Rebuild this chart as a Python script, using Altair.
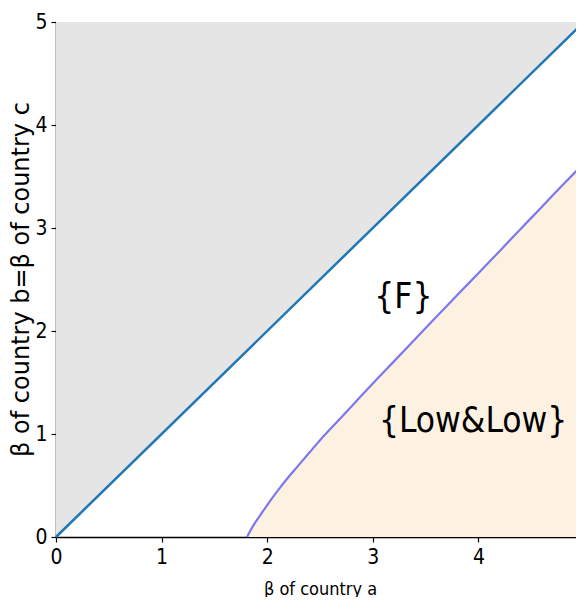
import altair as alt
import pandas as pd

# diagonal boundary y = x
diag_x = [0.0, 5.0]
diag_y = [0.0, 5.0]

# purple boundary curve
curve_x = [1.81, 1.84, 1.88, 1.94, 2.0, 2.1, 2.2, 2.3, 2.4, 2.5, 2.6, 2.8, 3.0, 3.2, 3.4, 3.6, 3.8, 4.0, 4.2, 4.4, 4.6, 4.8, 5.0]
curve_y = [0.0, 0.06, 0.13, 0.22, 0.31, 0.45, 0.58, 0.70, 0.82, 0.94, 1.05, 1.27, 1.49, 1.705, 1.92, 2.135, 2.35, 2.56, 2.775, 2.99, 3.205, 3.42, 3.63]

labels = ["{F}", "{Low&Low}"]
label_x = [3.29, 3.95]
label_y = [2.33, 1.13]

FONT = "DejaVu Sans Condensed"

diag = pd.DataFrame({"x": diag_x, "y": diag_y, "top": [5.0, 5.0]})
curve = pd.DataFrame({"x": curve_x, "y": curve_y, "zero": [0.0] * len(curve_x)})
texts = pd.DataFrame({"t": labels, "x": label_x, "y": label_y})

xs = alt.Scale(domain=[0, 5], nice=False, zero=False)
ys = alt.Scale(domain=[0, 5], nice=False, zero=False)

xax = alt.Axis(values=[0, 1, 2, 3, 4, 5], format="d", grid=False, domain=True,
               domainColor="black", domainWidth=1.5, tickColor="black", tickSize=5,
               tickWidth=1.2, labelFont=FONT, labelFontSize=21, labelColor="black",
               labelPadding=4, labelFlush=False, title="β of country a", titleFont=FONT,
               titleFontSize=18, titleFontWeight="normal", titleColor="black",
               titleBaseline="alphabetic", titleY=57)
yax = alt.Axis(values=[0, 1, 2, 3, 4, 5], format="d", grid=False, domain=True,
               domainColor="black", domainWidth=1.5, tickColor="black", tickSize=5,
               tickWidth=1.2, labelFont=FONT, labelFontSize=21, labelColor="black",
               labelPadding=4, title="β of country b=β of country c",
               titleFont="DejaVu Sans", titleFontSize=24, titleFontWeight="normal",
               titleColor="black", titleBaseline="middle", titleX=-35, titleY=257)

gray = alt.Chart(diag).mark_area(color="#e5e5e5", opacity=1).encode(
    x=alt.X("x:Q", scale=xs, axis=xax),
    y=alt.Y("y:Q", scale=ys, axis=yax),
    y2="top:Q",
)
beige = alt.Chart(curve).mark_area(color="#fdf2e2", opacity=1, interpolate="monotone").encode(
    x=alt.X("x:Q", scale=xs),
    y=alt.Y("y:Q", scale=ys),
    y2="zero:Q",
)
blue = alt.Chart(diag).mark_line(color="#1f77b4", strokeWidth=2.5).encode(
    x=alt.X("x:Q", scale=xs),
    y=alt.Y("y:Q", scale=ys),
)
purple = alt.Chart(curve).mark_line(color="#7b78ee", strokeWidth=2.2, interpolate="monotone").encode(
    x=alt.X("x:Q", scale=xs),
    y=alt.Y("y:Q", scale=ys),
)
txt = alt.Chart(texts).mark_text(font=FONT, fontSize=35, color="black",
                                 align="center", baseline="middle").encode(
    x=alt.X("x:Q", scale=xs),
    y=alt.Y("y:Q", scale=ys),
    text="t:N",
)

chart = alt.layer(gray, beige, blue, purple, txt).properties(
    width=528, height=515,
    autosize=alt.AutoSizeParams(type="none"),
    padding={"left": 48, "top": 14, "right": -8, "bottom": 60},
).configure_view(stroke="black", strokeWidth=1.5).configure(background="white")

chart.save("out.html", embed_options={"renderer": "svg", "actions": False})
